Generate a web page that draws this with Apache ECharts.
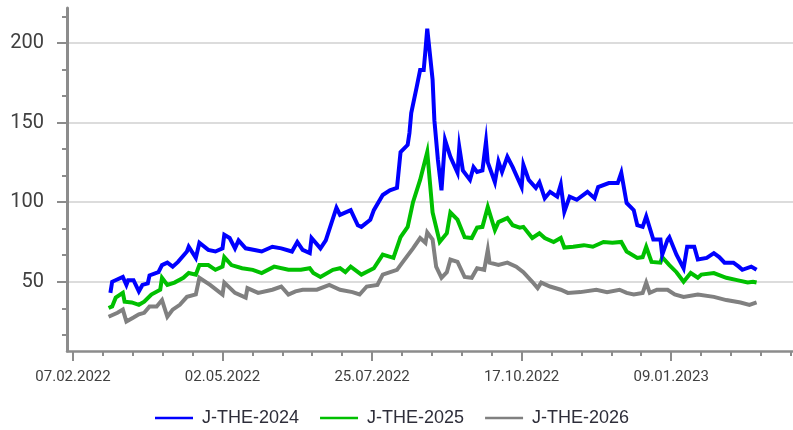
<!DOCTYPE html>
<html><head><meta charset="utf-8">
<script src="https://cdn.jsdelivr.net/npm/echarts@6/dist/echarts.min.js"></script>
<style>html,body{margin:0;padding:0;background:#fff}#c{width:793px;height:430px}</style>
</head><body><div id="c"></div>
<script>
// ---- data ----
const baseDate = '2022-02-07';
const periodDays = 84;
const xTickPeriods = [0, 1, 2, 3, 4];
const yTicks = [50, 100, 150, 200];
const yMinorTicks = [16.67, 33.33, 66.67, 83.33, 116.67, 133.33, 166.67, 183.33, 216.67];
const seriesNames = ['J-THE-2024', 'J-THE-2025', 'J-THE-2026'];
const seriesColors = ['#0000ff', '#00c000', '#808080'];

const dates2024 = ['2022-02-28','2022-03-01','2022-03-07','2022-03-09','2022-03-10','2022-03-13','2022-03-16','2022-03-18','2022-03-21','2022-03-22','2022-03-27','2022-03-29','2022-04-01','2022-04-04','2022-04-07','2022-04-12','2022-04-13','2022-04-17','2022-04-19','2022-04-24','2022-04-28','2022-05-02','2022-05-03','2022-05-06','2022-05-09','2022-05-11','2022-05-15','2022-05-20','2022-05-24','2022-05-30','2022-06-04','2022-06-10','2022-06-13','2022-06-16','2022-06-20','2022-06-21','2022-06-26','2022-06-29','2022-07-05','2022-07-07','2022-07-13','2022-07-17','2022-07-19','2022-07-24','2022-07-26','2022-07-31','2022-08-04','2022-08-08','2022-08-10','2022-08-14','2022-08-15','2022-08-16','2022-08-19','2022-08-21','2022-08-23','2022-08-24','2022-08-25','2022-08-28','2022-08-29','2022-08-31','2022-09-02','2022-09-04','2022-09-07','2022-09-11','2022-09-12','2022-09-14','2022-09-18','2022-09-20','2022-09-22','2022-09-25','2022-09-27','2022-09-28','2022-10-02','2022-10-04','2022-10-06','2022-10-09','2022-10-12','2022-10-17','2022-10-18','2022-10-21','2022-10-25','2022-10-27','2022-10-30','2022-11-02','2022-11-06','2022-11-08','2022-11-10','2022-11-13','2022-11-17','2022-11-23','2022-11-27','2022-11-29','2022-12-05','2022-12-10','2022-12-12','2022-12-15','2022-12-19','2022-12-21','2022-12-24','2022-12-26','2022-12-30','2023-01-03','2023-01-04','2023-01-07','2023-01-08','2023-01-12','2023-01-16','2023-01-18','2023-01-22','2023-01-24','2023-01-29','2023-02-02','2023-02-05','2023-02-08','2023-02-13','2023-02-16','2023-02-18','2023-02-23','2023-02-26'];
const values2024 = [43,50,53,48,51,51,44,48,49,54,56,60.5,62,59.5,62.5,69,72,65,74.5,70,69,71,79.5,77.5,71,76,71,70,69,72,71,69,75,70,68,77.5,71,76,96.5,92,95,85.5,84.5,89,95,104.5,107.5,109,131.5,136,143.5,156,172,183,183,195.5,209,177,151.5,126.5,107.5,139,128.5,118.5,134.5,120,114,122,119,120,138,125,112.5,125.5,119,128.5,122,109.5,123.5,114,109,112.5,102.5,106.5,103.5,111,94,103.5,101.5,106.5,102.5,109.5,112,112,118.5,99.5,95,85.5,84.5,91,76.5,76.5,67,76.5,78,67,58.5,72,72,64,65,68,65.5,62,62,59.5,57.5,59.5,57.5];

const dates2025 = ['2022-02-27','2022-03-01','2022-03-03','2022-03-07','2022-03-08','2022-03-12','2022-03-16','2022-03-19','2022-03-23','2022-03-28','2022-03-29','2022-04-01','2022-04-05','2022-04-10','2022-04-13','2022-04-17','2022-04-19','2022-04-24','2022-04-28','2022-05-02','2022-05-03','2022-05-07','2022-05-13','2022-05-19','2022-05-24','2022-05-31','2022-06-08','2022-06-15','2022-06-20','2022-06-22','2022-06-26','2022-07-03','2022-07-07','2022-07-10','2022-07-13','2022-07-19','2022-07-26','2022-07-31','2022-08-06','2022-08-10','2022-08-14','2022-08-17','2022-08-21','2022-08-25','2022-08-28','2022-09-01','2022-09-05','2022-09-07','2022-09-11','2022-09-15','2022-09-19','2022-09-22','2022-09-25','2022-09-28','2022-10-02','2022-10-04','2022-10-09','2022-10-12','2022-10-16','2022-10-18','2022-10-23','2022-10-27','2022-10-30','2022-11-04','2022-11-08','2022-11-10','2022-11-15','2022-11-21','2022-11-26','2022-12-02','2022-12-07','2022-12-12','2022-12-15','2022-12-21','2022-12-24','2022-12-26','2022-12-29','2023-01-03','2023-01-04','2023-01-08','2023-01-12','2023-01-16','2023-01-20','2023-01-24','2023-01-26','2023-02-02','2023-02-09','2023-02-15','2023-02-21','2023-02-24','2023-02-26'];
const values2025 = [33.5,34.5,40,43,37.5,37,35.5,37.5,42,45,52.5,48,49.5,52.5,55.5,54.5,60.5,60.5,57.5,59.5,65.5,60.5,58.5,57.5,55.5,59.5,57.5,57.5,58.5,55.5,53,57.5,58.5,56,59.5,54.5,58.5,67,65,78,84.5,100,114,131.5,93.5,75,80.5,93.5,89,78,77.5,84,84.5,97,82.5,87.5,90,85.5,84,84.5,77.5,80.5,77.5,75,77.5,71.5,72,73,72,75,74.5,75,69,65,65.5,72,62.5,62,65.5,60.5,56,50,55.5,52.5,54.5,55.5,52.5,51,49.5,50,49.5];

const dates2026 = ['2022-02-27','2022-03-04','2022-03-07','2022-03-09','2022-03-13','2022-03-16','2022-03-19','2022-03-22','2022-03-26','2022-03-29','2022-04-01','2022-04-04','2022-04-08','2022-04-12','2022-04-17','2022-04-19','2022-04-25','2022-05-02','2022-05-03','2022-05-09','2022-05-15','2022-05-16','2022-05-22','2022-05-30','2022-06-04','2022-06-08','2022-06-12','2022-06-16','2022-06-24','2022-07-01','2022-07-07','2022-07-14','2022-07-18','2022-07-22','2022-07-28','2022-07-31','2022-08-08','2022-08-11','2022-08-17','2022-08-21','2022-08-24','2022-08-25','2022-08-28','2022-08-30','2022-09-02','2022-09-05','2022-09-07','2022-09-11','2022-09-15','2022-09-19','2022-09-22','2022-09-26','2022-09-28','2022-09-29','2022-10-04','2022-10-09','2022-10-14','2022-10-18','2022-10-23','2022-10-26','2022-10-28','2022-11-02','2022-11-08','2022-11-12','2022-11-19','2022-11-28','2022-12-04','2022-12-11','2022-12-15','2022-12-19','2022-12-24','2022-12-26','2022-12-28','2023-01-01','2023-01-07','2023-01-11','2023-01-16','2023-01-24','2023-02-02','2023-02-09','2023-02-17','2023-02-22','2023-02-26'];
const values2026 = [28,30.5,32.5,25,27.5,29.5,30.5,34.5,34.5,38.5,28,32.5,35.5,40.5,42,52.5,48,42,49.5,43,40,46,43,45,47,42,44,45,45,48,45,43.5,42,47,48,54.5,57.5,62,71,77.5,74.5,81,76.5,59.5,52.5,56,64,62.5,53,52.5,58.5,57.5,70,62,60.5,62,59.5,56,50,46,49.5,47,45,43,43.5,45,43.5,45,43,42,43,49.5,43,45,45,42,40.5,42,40.5,38.5,37,35.5,37];

// ---- helpers ----
const dayMs = 86400000;
const baseMs = Date.parse(baseDate + 'T00:00:00Z');
function toPeriod(s) { return (Date.parse(s + 'T00:00:00Z') - baseMs) / dayMs / periodDays; }
function pad(n) { return (n < 10 ? '0' : '') + n; }
function fmtPeriod(v) {
  const d = new Date(baseMs + Math.round(v * periodDays) * dayMs);
  return pad(d.getUTCDate()) + '.' + pad(d.getUTCMonth() + 1) + '.' + d.getUTCFullYear();
}
function pairs(ds, vs) { return ds.map((d, i) => [toPeriod(d), vs[i]]); }

const xMinorTicks = [];
for (let k = 1; k < 25; k++) { if (k % 5 !== 0) xMinorTicks.push(Math.round(k * 0.2 * 1000) / 1000); }

const xMin = -0.0401, xMax = 4.815, yMin = 6.5, yMax = 222;
const axisGray = '#8c8c8c';

const chart = echarts.init(document.getElementById('c'), null, { renderer: 'canvas' });
const allDates = [dates2024, dates2025, dates2026];
const allValues = [values2024, values2025, values2026];

chart.setOption({
  animation: false,
  backgroundColor: '#ffffff',
  grid: { left: 67, right: 0, top: 8, bottom: 79, containLabel: false, outerBoundsMode: 'none' },
  legend: {
    data: seriesNames,
    icon: 'rect',
    left: 155, top: 409, padding: 0,
    itemWidth: 38, itemHeight: 2.5, itemGap: 21,
    textStyle: { fontFamily: 'Liberation Sans', fontSize: 18, color: '#2e2e3a', padding: [0, 0, 0, 4] }
  },
  xAxis: [{
    type: 'value', min: xMin, max: xMax, position: 'bottom',
    axisLine: { show: true, onZero: false, lineStyle: { color: axisGray, width: 2.5 } },
    axisTick: { show: true, customValues: xTickPeriods, length: 10, lineStyle: { color: axisGray, width: 2 } },
    axisLabel: { show: true, customValues: xTickPeriods, formatter: fmtPeriod, fontFamily: 'Roboto', fontSize: 15, color: '#404040', margin: 19 },
    splitLine: { show: false }
  }, {
    type: 'value', min: xMin, max: xMax, position: 'bottom',
    axisLine: { show: false, onZero: false },
    axisTick: { show: true, customValues: xMinorTicks, length: 5, lineStyle: { color: axisGray, width: 2 } },
    axisLabel: { show: false },
    splitLine: { show: false }
  }],
  yAxis: [{
    type: 'value', min: yMin, max: yMax, position: 'left',
    axisLine: { show: true, onZero: false, lineStyle: { color: axisGray, width: 3 } },
    axisTick: { show: true, customValues: yTicks, length: 10, lineStyle: { color: axisGray, width: 2 } },
    axisLabel: { show: true, customValues: yTicks, fontFamily: 'Roboto', fontSize: 20, color: '#404040', margin: 23 },
    splitLine: { show: true, lineStyle: { color: '#dcdcdc', width: 2 } }
  }, {
    type: 'value', min: yMin, max: yMax, position: 'left',
    axisLine: { show: false, onZero: false },
    axisTick: { show: true, customValues: yMinorTicks, length: 5, lineStyle: { color: axisGray, width: 2 } },
    axisLabel: { show: false },
    splitLine: { show: false }
  }],
  series: seriesNames.map((name, i) => ({
    name: name, type: 'line', xAxisIndex: 0, yAxisIndex: 0,
    data: pairs(allDates[i], allValues[i]),
    symbol: 'none', showSymbol: false,
    color: seriesColors[i],
    itemStyle: { color: seriesColors[i] },
    lineStyle: { color: seriesColors[i], width: 4, join: 'miter' },
    z: 10 - i
  }))
});
</script>
</body></html>
